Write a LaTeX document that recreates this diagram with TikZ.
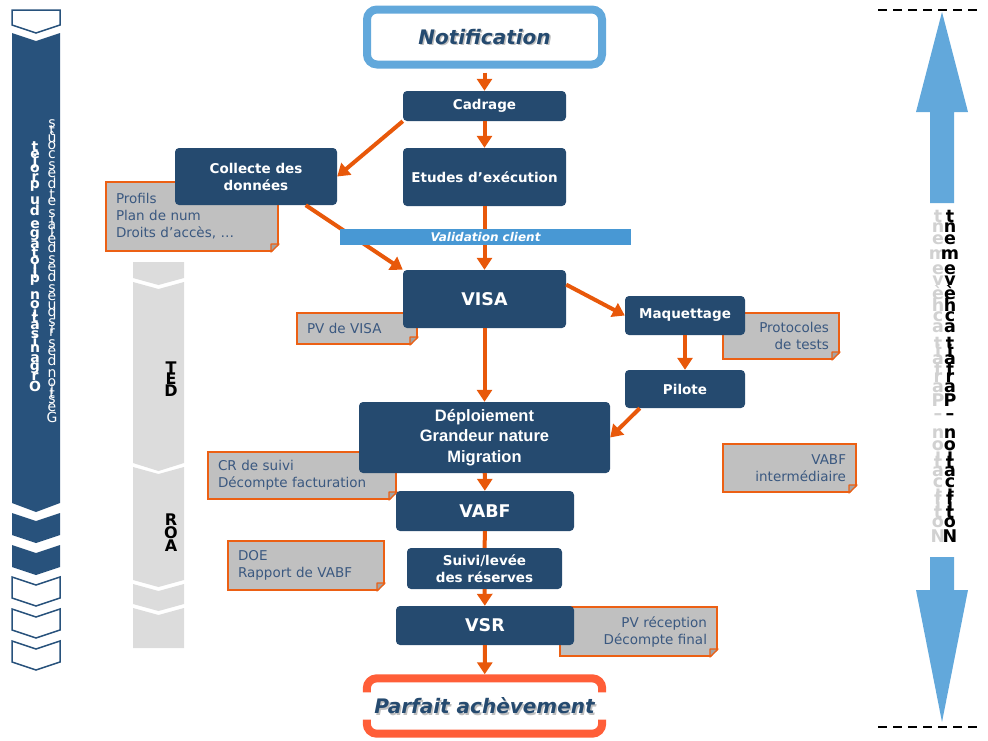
\documentclass[tikz,border=0pt]{standalone}
\usepackage{fontspec}
\setmainfont{DejaVu Sans}[ItalicFont={DejaVu Sans Oblique},BoldItalicFont={DejaVu Sans Bold Oblique}]
\newfontfamily\arialfont{Liberation Sans}
\usetikzlibrary{calc,arrows.meta}

\definecolor{boxblue}{RGB}{37,74,111}
\definecolor{barblue}{RGB}{40,82,124}
\definecolor{skyblue}{RGB}{98,168,219}
\definecolor{validblue}{RGB}{72,152,212}
\definecolor{flowor}{RGB}{232,88,10}
\definecolor{memoline}{RGB}{236,96,20}
\definecolor{memogray}{RGB}{192,192,192}
\definecolor{memotext}{RGB}{58,88,128}
\definecolor{endred}{RGB}{255,94,56}
\definecolor{phasegray}{RGB}{220,220,220}

\newcommand\boxfont{\fontsize{13.5}{17}\selectfont\bfseries}
\newcommand\bigboxfont{\fontsize{17.5}{20}\selectfont\bfseries}
\newcommand\deployfont{\arialfont\fontsize{16.5}{20.5}\selectfont\bfseries}
\newcommand\memofont{\fontsize{13.5}{17}\selectfont}
\newcommand\titlefont{\fontsize{20}{24}\selectfont\bfseries\itshape}

% chevron segment: [style](x1:x2)(ytop:ybottom)(top notch:bottom point)
\def\chevron[#1](#2:#3)(#4:#5)(#6:#7){\path[#1] (#2,#4) -- ({(#2+#3)/2},{#4+#6}) -- (#3,#4) -- (#3,#5) -- ({(#2+#3)/2},{#5+#7}) -- (#2,#5) -- cycle;}
% folded corner of a memo
\def\fold(#1){%
  \fill[white] ($(#1.south east)+(2,2)$) -- ($(#1.south east)+(-9,2)$) -- ($(#1.south east)+(2,-9)$) -- cycle;
  \filldraw[fill=memogray!85!black, draw=memoline, line width=1.2pt, line join=round] ($(#1.south east)+(-8,0)$) -- ($(#1.south east)+(0,-8)$) -- ($(#1.south east)+(-8,-8)$) -- cycle;}
% upright letters of a text turned to read upwards
\newdimen\sidedim
\newcommand\sidetext[5]{%
  \global\sidedim=#4pt
  \foreach \ch in {#5}{%
    \pgfinterruptpicture\global\setbox1=\hbox{#2\ch}\endpgfinterruptpicture
    \global\advance\sidedim by -0.5\wd1
    \pgfmathsetmacro\sidemid{\sidedim}%
    \node[text=#1, font=#2, inner sep=0pt] at (#3,\sidemid) {\ch};
    \global\advance\sidedim by -0.5\wd1
  }}

\tikzset{
  phase/.style={fill=boxblue, rounded corners=4pt, text=white, font=\boxfont, align=center, inner sep=0pt},
  flow/.style={draw=flowor, line width=4pt, -{Triangle[length=12pt,width=15pt]}},
  link/.style={draw=flowor, line width=4pt},
  memo/.style={fill=memogray, draw=memoline, line width=2pt, text=memotext, font=\memofont, anchor=north west, inner xsep=10pt, inner ysep=0pt},
  title/.style={font=\titlefont, text=boxblue, minimum width=235pt, minimum height=55pt, inner sep=0pt},
  endframe/.style={draw=endred, line width=8pt, rounded corners=10pt},
}

\begin{document}
\begin{tikzpicture}[x=1pt, y=-1pt]
  \useasboundingbox (0,0) rectangle (988,740);
  %%%%% LEFT BAR %%%%%
  \chevron[draw=barblue, line width=1.5pt, fill=white](12:60)(10:25)(0:8)
  \chevron[fill=barblue](12:60)(33:503)(8:9)
  \chevron[fill=barblue](12:60)(513:535)(8:8)
  \chevron[fill=barblue](12:60)(545:567)(8:8)
  \chevron[draw=barblue, line width=1.5pt, fill=white](12:60)(577:598)(8:8)
  \chevron[draw=barblue, line width=1.5pt, fill=white](12:60)(609:630)(8:8)
  \chevron[draw=barblue, line width=1.5pt, fill=white](12:60)(641:662)(8:8)
  \sidetext{white}{\fontsize{14}{14}\selectfont\bfseries}{35}{392}{O,r,g,a,n,i,s,a,t,i,o,n,~,p,i,l,o,t,a,g,e,~,d,u,~,p,r,o,j,e,t}
  \sidetext{white}{\fontsize{14}{14}\selectfont}{52}{423}{G,e,s,t,i,o,n,~,d,e,s,~,r,i,s,q,u,e,s,~,d,e,s,~,d,é,l,a,i,s,~,e,t,~,d,e,s,~,c,o,û,t,s}

  %%%%% PHASES %%%%%
  \chevron[fill=phasegray](133:184)(262:278)(0:7)
  \chevron[fill=phasegray](133:184)(282:463)(7:8)
  \chevron[fill=phasegray](133:184)(467:580)(7:7)
  \chevron[fill=phasegray](133:184)(584:604)(7:7)
  \chevron[fill=phasegray](133:184)(608:648)(7:0)
  \sidetext{black}{\fontsize{16}{16}\selectfont\bfseries}{171}{397}{D,E,T}
  \sidetext{black}{\fontsize{16}{16}\selectfont\bfseries}{171}{552}{A,O,R}

  %%%%% RIGHT SCALE %%%%%
  \draw[line width=2pt, dash pattern=on 9pt off 6pt] (878,10) -- (978,10);
  \draw[line width=2pt, dash pattern=on 9pt off 6pt] (878,727) -- (978,727);
  \fill[skyblue] (942,12) -- (968,112) -- (954,112) -- (954,203) -- (930,203) -- (930,112) -- (916,112) -- cycle;
  \fill[skyblue] (930,557) -- (954,557) -- (954,590) -- (968,590) -- (942,722) -- (916,590) -- (930,590) -- cycle;
  \sidetext{black!18}{\fontsize{17.5}{17.5}\selectfont\bfseries}{938}{543}{N,o,t,i,f,i,c,a,t,i,o,n,~,–,~,P,a,r,f,a,i,t,~,a,c,h,è,v,e,m,e,n,t}
  \sidetext{black}{\fontsize{17.5}{17.5}\selectfont\bfseries}{950}{543}{N,o,t,i,f,i,c,a,t,i,o,n,~,–,~,P,a,r,f,a,i,t,~,a,c,h,è,v,e,m,e,n,t}

  %%%%% MEMOS %%%%%
  \node[memo, minimum width=172pt, minimum height=69pt, text width=152pt, align=left] (profils) at (105,181) {Profils\\Plan de num\\Droits d’accès, …};
  \node[memo, minimum width=120pt, minimum height=31pt, text width=100pt, align=left] (pvvisa) at (296,312) {PV de VISA};
  \node[memo, minimum width=116pt, minimum height=46pt, text width=96pt, align=right] (protocoles) at (722,312) {Protocoles\\de tests};
  \node[memo, minimum width=133pt, minimum height=48pt, text width=113pt, align=right] (vabfint) at (722,443) {VABF\\intermédiaire};
  \node[memo, minimum width=188pt, minimum height=47pt, text width=168pt, align=left] (crsuivi) at (207,451) {CR de suivi\\Décompte facturation};
  \node[memo, minimum width=156pt, minimum height=49pt, text width=136pt, align=left] (doe) at (227,540) {DOE\\Rapport de VABF};
  \node[memo, minimum width=157pt, minimum height=49pt, text width=137pt, align=right] (pvrecep) at (559,606) {PV réception\\Décompte final};
  \fold(profils) \fold(pvvisa) \fold(protocoles) \fold(vabfint) \fold(crsuivi) \fold(doe) \fold(pvrecep)

  %%%%% FLOW %%%%%
  \node[title, text=black!25] (notifshadow) at (486,38.5) {Notification};
  \node[title, draw=skyblue, line width=8pt, rounded corners=10pt] (notification) at (484.5,37) {Notification};
  \node[phase, minimum width=163pt, minimum height=30pt] (cadrage) at (484.5,106) {Cadrage};
  \node[phase, minimum width=163pt, minimum height=58pt] (etudes) at (484.5,177) {Etudes d’exécution};
  \node[phase, minimum width=162pt, minimum height=57pt] (collecte) at (256,176.5) {Collecte des\\données};
  \node[phase, font=\bigboxfont, minimum width=163pt, minimum height=58pt] (visa) at (484.5,299) {VISA};
  \node[phase, minimum width=120pt, minimum height=39pt] (maquettage) at (685,315.5) {Maquettage};
  \node[phase, minimum width=120pt, minimum height=38pt] (pilote) at (685,389) {Pilote};
  \node[phase, font=\deployfont, minimum width=251pt, minimum height=71pt] (deploiement) at (484.5,437.5) {Déploiement\\Grandeur nature\\Migration};
  \node[phase, font=\bigboxfont, minimum width=178pt, minimum height=40pt] (vabf) at (485,511) {VABF};
  \node[phase, minimum width=155pt, minimum height=41pt] (suivi) at (484.5,568.5) {Suivi/levée\\des réserves};
  \node[phase, font=\bigboxfont, minimum width=178pt, minimum height=39pt] (vsr) at (485,625.5) {VSR};
  \node[title, text=black!25] (parfaitshadow) at (486,707.5) {Parfait achèvement};
  \node[title] (parfait) at (484.5,706) {Parfait achèvement};
  \draw[endframe] ($(parfait.north west)+(0,14)$) -- (parfait.north west) -- (parfait.north east) -- ($(parfait.north east)+(0,14)$);
  \draw[endframe] ($(parfait.south west)+(0,-14)$) -- (parfait.south west) -- (parfait.south east) -- ($(parfait.south east)+(0,-14)$);

  \draw[flow, shorten <=4pt] (notification) -- (cadrage);
  \draw[flow] (cadrage) -- (etudes);
  \draw[flow] (cadrage.south west) -- (collecte.east);
  \draw[flow] (etudes) -- (visa);
  \draw[flow] (collecte.-30) -- (visa.north west);
  \draw[flow] (visa.10) -- (maquettage.west);
  \draw[flow] (visa) -- (deploiement);
  \draw[flow] (maquettage) -- (pilote);
  \draw[flow] (pilote.-157) -- (deploiement.east);
  \draw[flow] (deploiement) -- (vabf);
  \draw[link] (vabf) -- (suivi);
  \draw[flow] (suivi) -- (vsr);
  \draw[flow, shorten >=4pt] (vsr) -- (parfait);

  \node[fill=validblue, text=white, font=\fontsize{12}{12}\selectfont\bfseries\itshape, minimum width=291pt, minimum height=16pt, inner sep=0pt] (validation) at (485.5,237) {Validation client};
\end{tikzpicture}
\end{document}
